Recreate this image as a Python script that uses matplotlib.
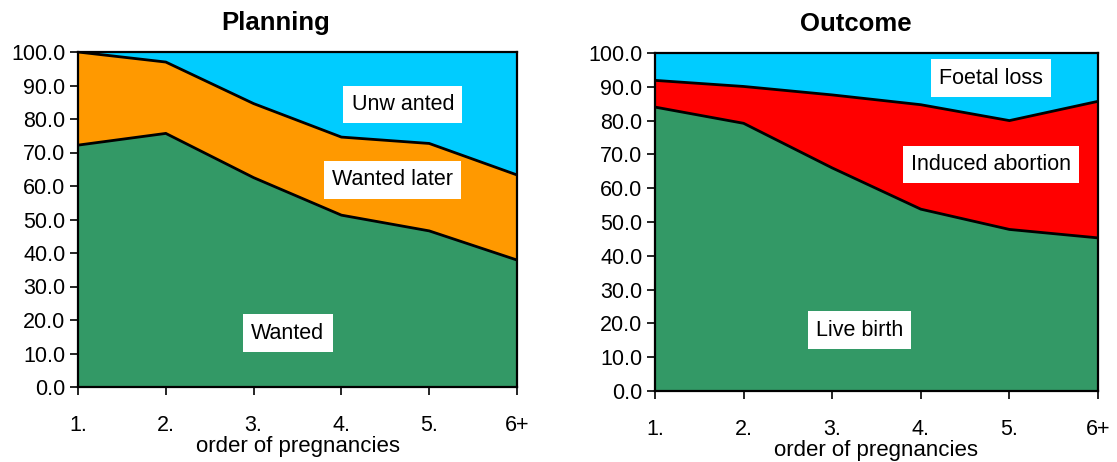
import matplotlib
matplotlib.use("Agg")
import matplotlib.pyplot as plt
import numpy as np

plt.rcParams['font.family'] = ['Liberation Sans', 'DejaVu Sans']

categories = ["1.", "2.", "3.", "4.", "5.", "6+"]

# Planning (percent)
wanted = [72.2, 75.7, 62.5, 51.3, 46.6, 37.9]
wanted_later = [27.8, 21.3, 22.1, 23.3, 26.1, 25.4]
unwanted = [0.0, 3.0, 15.4, 25.4, 27.3, 36.7]

# Outcome (percent)
live_birth = [84.0, 79.2, 66.0, 53.8, 47.8, 45.3]
induced_abortion = [7.9, 10.9, 21.6, 30.9, 32.2, 40.4]
foetal_loss = [8.1, 9.9, 12.4, 15.3, 20.0, 14.3]

green = "#339966"
orange = "#FF9900"
cyan = "#00CCFF"
red = "#FF0000"

W, H = 1117, 462
fig = plt.figure(figsize=(W / 100, H / 100), dpi=100)

def add_ax(x0, x1, y0, y1):
    return fig.add_axes([x0 / W, 1 - y1 / H, (x1 - x0) / W, (y1 - y0) / H])

ax1 = add_ax(78, 517, 52, 387)
ax2 = add_ax(655, 1098, 53, 391)

FS = 15.5

def draw(ax, series, colors, title, title_x, labels):
    x = np.arange(1, len(categories) + 1)
    ax.stackplot(x, *series, colors=colors, edgecolor='none')
    cum = np.cumsum(np.array(series), axis=0)
    for row in cum[:-1]:
        ax.plot(x, row, color='black', lw=2, solid_joinstyle='miter')
    ax.set_xlim(1, len(categories))
    ax.set_ylim(0, 100)
    ax.set_xticks(x)
    ax.set_xticklabels(categories, fontsize=FS)
    ax.set_yticks(np.arange(0, 101, 10))
    ax.set_yticklabels([f"{v:.1f}" for v in np.arange(0, 101, 10)], fontsize=FS)
    ax.tick_params(axis='x', direction='out', length=6, width=1.2, pad=14)
    ax.tick_params(axis='y', direction='out', length=6, width=1.2, pad=3)
    for s in ax.spines.values():
        s.set_color('black')
        s.set_linewidth(1.6)
    ax.set_xlabel("order of pregnancies", fontsize=16, labelpad=0)
    ax.text(title_x, 1.05, title, transform=ax.transAxes, fontsize=18.5,
            fontweight='bold', ha='center', va='bottom')
    for (tx, ty, t) in labels:
        ax.text(tx, ty, t, fontsize=FS, ha='center', va='center',
                bbox=dict(boxstyle='square,pad=0.38', fc='white', ec='none'))

draw(ax1, [wanted, wanted_later, unwanted], [green, orange, cyan], "Planning", 0.451,
     [(4.70, 84.4, "Unw anted"), (4.58, 61.8, "Wanted later"), (3.39, 16.1, "Wanted")])
draw(ax2, [live_birth, induced_abortion, foetal_loss], [green, red, cyan], "Outcome", 0.454,
     [(4.79, 92.6, "Foetal loss"), (4.79, 67.0, "Induced abortion"), (3.31, 18.0, "Live birth")])

fig.savefig("out.png", dpi=100)
